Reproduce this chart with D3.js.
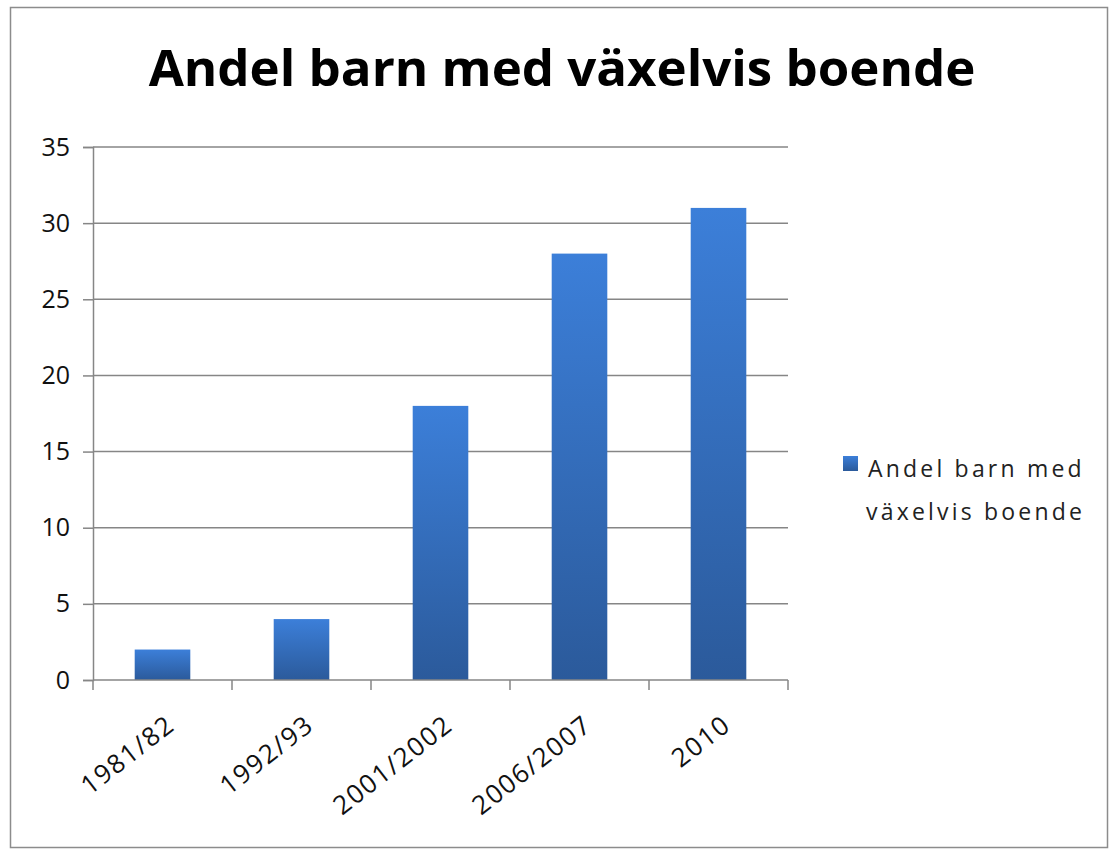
<!DOCTYPE html>
<html>
<head>
<meta charset="utf-8">
<script src="https://cdn.jsdelivr.net/npm/d3@7"></script>
<style>
  body { margin: 0; background: #fff; }
  text { font-family: "Open Sans", "Noto Sans", sans-serif; }
</style>
</head>
<body>
<svg id="chart"></svg>
<script>
// data
const categories = ["1981/82", "1992/93", "2001/2002", "2006/2007", "2010"];
const values = [2, 4, 18, 28, 31];
const yTicks = [0, 5, 10, 15, 20, 25, 30, 35];
const seriesName = "Andel barn med växelvis boende";

var W = 1110, H = 854;
var margin = { top: 147, left: 93, right: 322, bottom: 174 },
    width = W - margin.left - margin.right,
    height = H - margin.top - margin.bottom;

var svg = d3.select("#chart").attr("width", W).attr("height", H);

// chart border
svg.append("rect")
    .attr("x", 10.5).attr("y", 7.5)
    .attr("width", 1097).attr("height", 840)
    .attr("fill", "#fff").attr("stroke", "#8c8c8c").attr("stroke-width", 1.5);

var defs = svg.append("defs");
var grad = defs.append("linearGradient").attr("id", "barGrad")
    .attr("x1", 0).attr("y1", 0).attr("x2", 0).attr("y2", 1);
grad.append("stop").attr("offset", "0%").attr("stop-color", "#3c7fd9");
grad.append("stop").attr("offset", "100%").attr("stop-color", "#2b5a9b");

// title
svg.append("text")
    .attr("x", 562).attr("y", 86)
    .attr("text-anchor", "middle")
    .attr("font-size", 51).attr("font-weight", "bold")
    .attr("fill", "#000")
    .text(seriesName);

var g = svg.append("g").attr("transform", "translate(" + margin.left + "," + margin.top + ")");

var x = d3.scaleBand().domain(categories).range([0, width]).paddingInner(0.6).paddingOuter(0.3);
var y = d3.scaleLinear().domain([0, 35]).range([height, 0]);

// gridlines
g.selectAll(".grid").data(yTicks.slice(1))
    .enter().append("line")
    .attr("x1", 0).attr("x2", width)
    .attr("y1", d => y(d)).attr("y2", d => y(d))
    .attr("stroke", "#868686").attr("stroke-width", 1.5);

// y axis
var yAxis = g.append("g").call(d3.axisLeft(y).tickValues(yTicks).tickSize(10).tickPadding(13));
yAxis.attr("font-size", null).attr("font-family", null);
yAxis.select(".domain").attr("stroke", "#868686").attr("stroke-width", 1.5);
yAxis.selectAll(".tick line").attr("stroke", "#868686").attr("stroke-width", 1.5);
yAxis.selectAll(".tick text").attr("font-size", 25).attr("fill", "#111");

// bars
g.selectAll(".bar").data(values)
    .enter().append("rect")
    .attr("x", (d, i) => x(categories[i]))
    .attr("y", d => y(d))
    .attr("width", x.bandwidth())
    .attr("height", d => height - y(d))
    .attr("fill", "url(#barGrad)");

// x axis with ticks at category boundaries
var step = x.step();
var xg = g.append("g").attr("transform", "translate(0," + height + ")");
xg.append("line").attr("x1", 0).attr("x2", width)
    .attr("stroke", "#868686").attr("stroke-width", 1.5);
xg.selectAll(".xtick").data(d3.range(categories.length + 1))
    .enter().append("line")
    .attr("x1", i => i * step).attr("x2", i => i * step)
    .attr("y1", 0).attr("y2", 10)
    .attr("stroke", "#868686").attr("stroke-width", 1.5);
xg.selectAll(".xlabel").data(categories)
    .enter().append("text")
    .attr("transform", d => "translate(" + (x(d) + x.bandwidth() / 2 + 14) + ",48) rotate(-38)")
    .attr("text-anchor", "end")
    .attr("font-size", 26).attr("letter-spacing", 1.6).attr("fill", "#111")
    .text(d => d);

// legend
var lg = svg.append("g").attr("transform", "translate(843,456)");
lg.append("rect").attr("width", 15).attr("height", 15).attr("fill", "url(#barGrad)");
lg.append("text").attr("x", 25).attr("y", 21).attr("font-size", 23).attr("fill", "#222")
    .attr("letter-spacing", 3.2).text("Andel barn med");
lg.append("text").attr("x", 23).attr("y", 64).attr("font-size", 23).attr("fill", "#222")
    .attr("letter-spacing", 3.2).text("växelvis boende");
</script>
</body>
</html>
